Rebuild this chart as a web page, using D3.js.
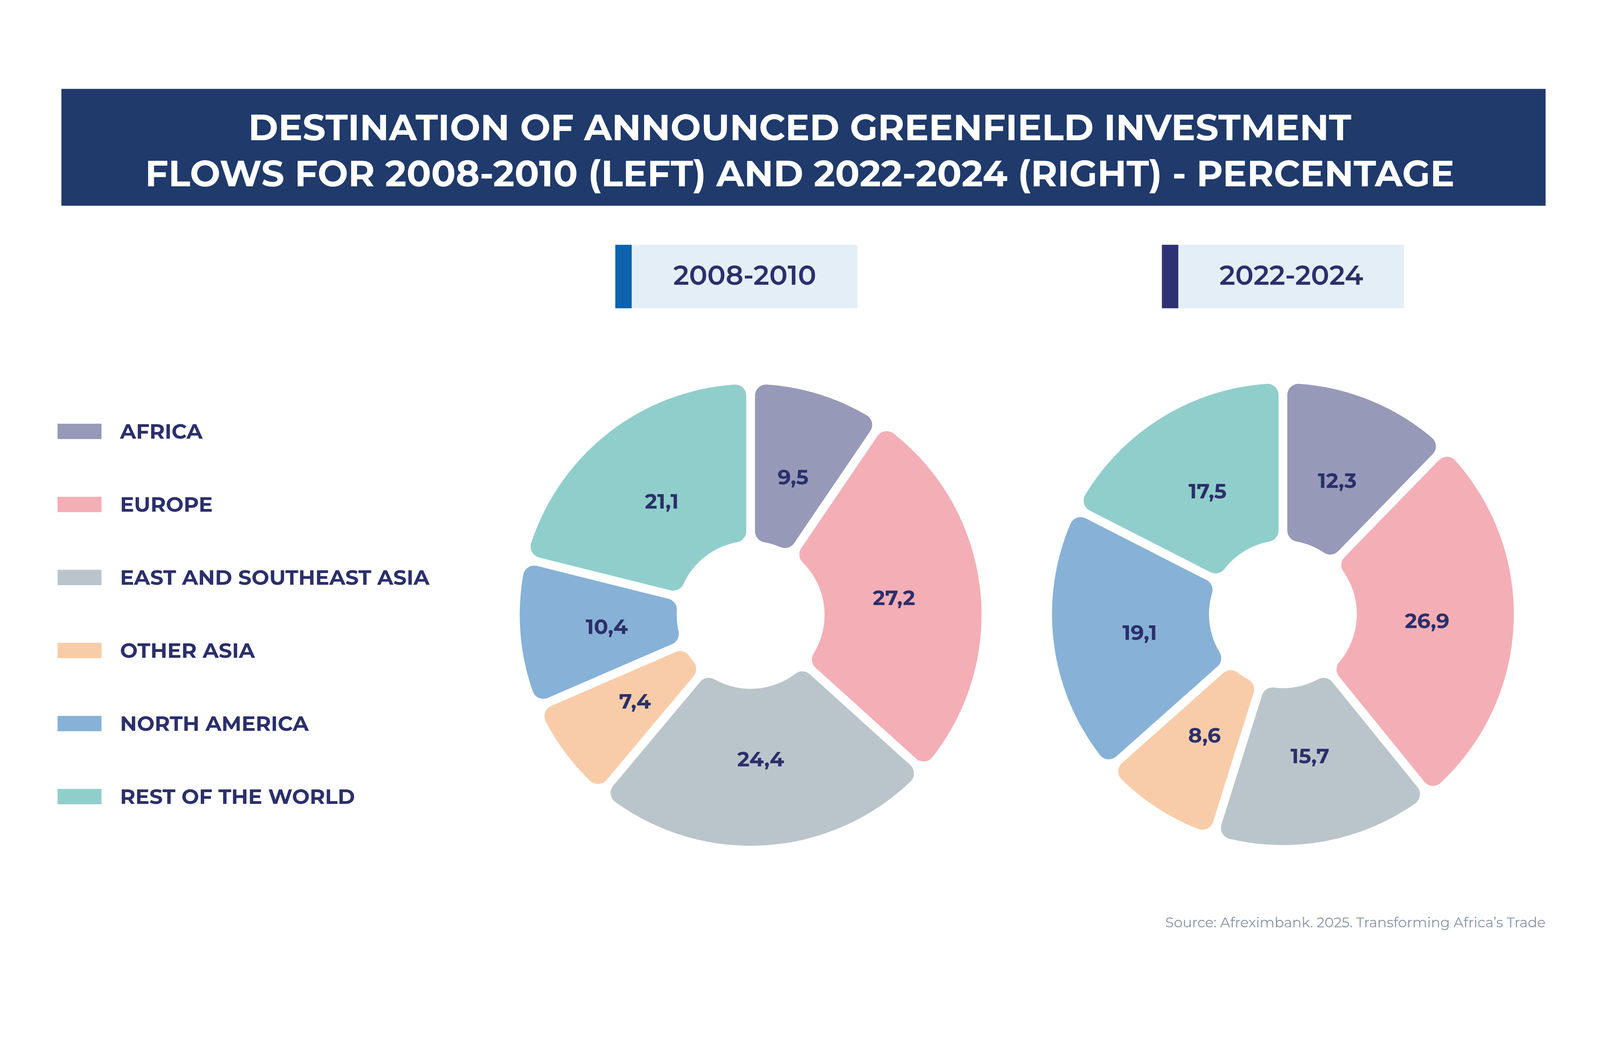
<!DOCTYPE html>
<html><head><meta charset="utf-8">
<script src="https://cdn.jsdelivr.net/npm/d3@7"></script>
<style>html,body{margin:0;padding:0;background:#fff;overflow:hidden}svg{display:block;width:100vw;height:100vh}</style></head>
<body><svg id="c" viewBox="0 0 4587 2683" preserveAspectRatio="xMidYMid meet"></svg>
<script>
const categories = ["AFRICA","EUROPE","EAST AND SOUTHEAST ASIA","OTHER ASIA","NORTH AMERICA","REST OF THE WORLD"];
const colors = ["#9799b8","#f4aeb6","#bac5cb","#f8cca8","#87b1d6","#90cecb"];
const values2008 = [9.5,27.2,24.4,7.4,10.4,21.1];
const values2022 = [12.3,26.9,15.7,8.6,19.1,17.5];
const periods = ["2008-2010","2022-2024"];
const accents = ["#0d63ae","#2e3272"];
const titleLines = ["DESTINATION OF ANNOUNCED GREENFIELD INVESTMENT","FLOWS FOR 2008-2010 (LEFT) AND 2022-2024 (RIGHT) - PERCENTAGE"];
const source = "Source: Afreximbank. 2025. Transforming Africa’s Trade";

const svg = d3.select("#c");
const font = "Montserrat, 'Open Sans', 'DejaVu Sans', sans-serif";
const ink = "#2b2f6b";

svg.append("rect").attr("x",176).attr("y",94).attr("width",4255).attr("height",335).attr("fill","#1f3a6b");
svg.selectAll(".t").data(titleLines).join("text")
  .attr("x",2293).attr("y",(d,i)=>241+i*132).attr("text-anchor","middle")
  .attr("font-family",font).attr("font-weight",700).attr("font-size",104).attr("fill","#fff").text(d=>d);

const xs = d3.scaleOrdinal().domain(periods).range([1764,3331]);
periods.forEach((p,i)=>{
  const x = xs(p);
  svg.append("rect").attr("x",x).attr("y",541).attr("width",694).attr("height",182).attr("fill","#e4eef7");
  svg.append("rect").attr("x",x).attr("y",541).attr("width",47).attr("height",182).attr("fill",accents[i]);
  svg.append("text").attr("x",x+24+347).attr("y",656).attr("text-anchor","middle")
    .attr("font-family",font).attr("font-weight",600).attr("font-size",78).attr("fill",ink).text(p);
});

const ly = d3.scalePoint().domain(categories).range([1076,2123]);
categories.forEach((c,i)=>{
  svg.append("rect").attr("x",165).attr("y",ly(c)-22).attr("width",126).attr("height",44).attr("fill",colors[i]);
  svg.append("text").attr("x",344).attr("y",ly(c)+21).attr("font-family",font).attr("font-weight",700)
    .attr("font-size",60).attr("fill",ink).text(c);
});

const R=662, r=212;
const pie = d3.pie().sort(null).value(d=>d);
const arc = d3.arc().innerRadius(r).outerRadius(R).padAngle(0.036).padRadius(Math.sqrt(R*R+r*r)).cornerRadius(32);
const labelArc = d3.arc().innerRadius(r).outerRadius(R*0.93);
[[values2008,2152,1602],[values2022,3678,1600]].forEach(([vals,cx,cy])=>{
  const g = svg.append("g").attr("transform",`translate(${cx},${cy})`);
  const arcs = pie(vals);
  g.selectAll("path").data(arcs).join("path").attr("d",arc).attr("fill",(d,i)=>colors[i]);
  g.selectAll("text").data(arcs).join("text")
    .attr("transform",d=>`translate(${labelArc.centroid(d)})`).attr("text-anchor","middle").attr("dy","0.35em")
    .attr("font-family",font).attr("font-weight",700).attr("font-size",60).attr("fill",ink)
    .text(d=>String(d.data.toFixed(1)).replace(".",","));
});

svg.append("text").attr("x",4431).attr("y",2498).attr("text-anchor","end").attr("font-family",font)
  .attr("font-size",40).attr("fill","#8a94a6").text(source);
</script></body></html>
